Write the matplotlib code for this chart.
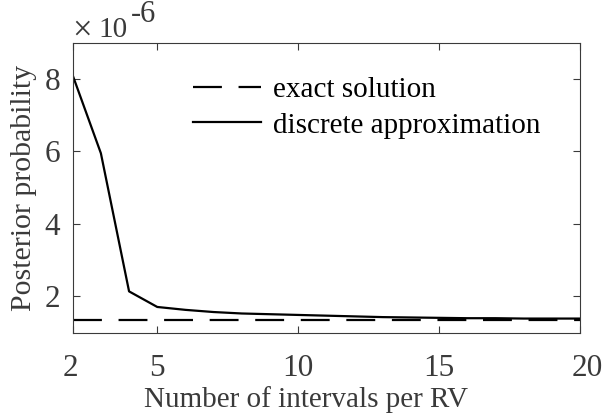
import matplotlib
matplotlib.use("Agg")
import matplotlib.pyplot as plt
import matplotlib.transforms as mtransforms
import numpy as np

intervals = [2, 3, 4, 5, 6, 7, 8, 9, 10, 11, 12, 13, 14, 15, 16, 17, 18, 19, 20]
discrete = [8.10, 5.95, 2.14, 1.71, 1.63, 1.57, 1.53, 1.51, 1.49, 1.47, 1.45,
            1.43, 1.42, 1.41, 1.40, 1.40, 1.39, 1.39, 1.39]
exact_value = 1.36
xticks = [2, 5, 10, 15, 20]
yticks = [2, 4, 6, 8]

plt.rcParams['font.family'] = ['Liberation Serif', 'DejaVu Serif']

W, H = 603, 419
gray = '#3a3a3a'
fig = plt.figure(figsize=(W / 100, H / 100), dpi=100)
ax = fig.add_axes([72.7 / W, 1 - 332.7 / H, (580 - 72.7) / W, (332.7 - 42.7) / H])

x = np.array(intervals)
ax.plot([intervals[0], intervals[-1]], [exact_value, exact_value],
        color='black', lw=1.6, linestyle=(0, (13, 7.5)), label='exact solution')
ax.plot(x, discrete, color='black', lw=1.6, label='discrete approximation')

ax.set_xlim(2, 20)
ax.set_ylim(1, 9)
ax.set_xticks(xticks)
ax.set_yticks(yticks)
ax.tick_params(direction='in', top=True, right=True, length=5, width=0.8,
               colors=gray, labelsize=22.5)
ax.tick_params(axis='x', pad=15)
ax.tick_params(axis='y', pad=9)
for s in ax.spines.values():
    s.set_color(gray)
    s.set_linewidth(0.8)

ax.set_xlabel('Number of intervals per RV', fontsize=21, color=gray)
ax.xaxis.set_label_coords((306 - 72.7) / (580 - 72.7), -0.183)
ax.xaxis.label.set_va('top')
ax.set_ylabel('Posterior probability', fontsize=21.5, color=gray)
ax.yaxis.set_label_coords(-(72.7 - 37) / (580 - 72.7), 0.5)

# shift the end x tick labels as in the reference
lbls = ax.get_xticklabels()
lbls[-1].set_transform(lbls[-1].get_transform() + mtransforms.ScaledTranslation(7 / 100, 0, fig.dpi_scale_trans))
lbls[0].set_transform(lbls[0].get_transform() + mtransforms.ScaledTranslation(-2 / 100, 0, fig.dpi_scale_trans))

# exponent label
fig.text(72 / W, 1 - 40 / H, '\u00d7', fontsize=25, color=gray, ha='left', va='baseline')
fig.text(98 / W, 1 - 37 / H, '10', fontsize=21, color=gray, ha='left', va='baseline')
fig.text(131 / W, 1 - 22 / H, '-6', fontsize=22, color=gray, ha='left', va='baseline')

leg = ax.legend(loc='upper left', bbox_to_anchor=((193 - 72.7) / (580 - 72.7), (332.7 - 77) / 290),
                frameon=False, fontsize=21, handlelength=2.33, handletextpad=0.41,
                labelspacing=0.3, borderaxespad=0, borderpad=0)
for t in leg.get_texts():
    t.set_color('black')

fig.savefig('out.png', dpi=100)
